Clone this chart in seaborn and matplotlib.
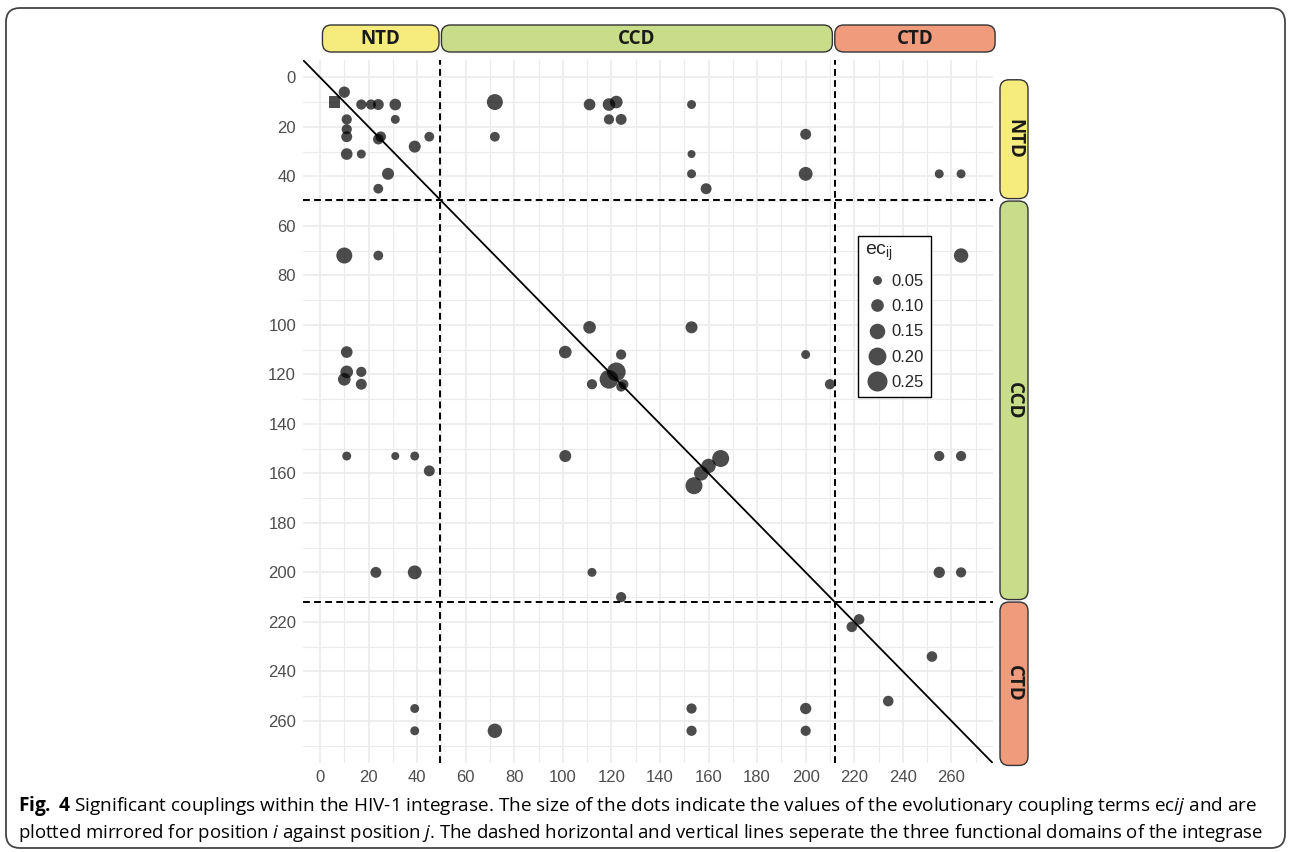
import matplotlib
matplotlib.use("Agg")
import matplotlib.pyplot as plt
from matplotlib.patches import FancyBboxPatch
from matplotlib.lines import Line2D
from matplotlib.transforms import IdentityTransform
import numpy as np
import pandas as pd
import seaborn as sns

# significant couplings (position i < position j) and their ec_ij values
pos_i = [6, 11, 11, 11, 11, 17, 24, 28, 24, 10, 24, 11, 11, 10, 17, 17, 11, 31, 39, 45,
         23, 39, 39, 39, 72, 101, 101, 112, 119, 124, 112, 124, 153, 153, 154, 157, 200, 200,
         219, 234]
pos_j = [10, 17, 21, 24, 31, 31, 25, 39, 45, 72, 72, 111, 119, 122, 119, 124, 153, 153, 153, 159,
         200, 200, 255, 264, 264, 111, 153, 124, 122, 125, 200, 210, 255, 264, 165, 160, 255, 264,
         222, 252]
ec_vals = [0.08, 0.065, 0.065, 0.075, 0.085, 0.05, 0.07, 0.09, 0.06, 0.16, 0.06, 0.085, 0.10, 0.10,
           0.065, 0.075, 0.05, 0.04, 0.05, 0.075, 0.075, 0.12, 0.05, 0.05, 0.13, 0.10, 0.09, 0.065,
           0.22, 0.06, 0.05, 0.065, 0.065, 0.065, 0.18, 0.13, 0.08, 0.065, 0.07, 0.07]
# this one shows up as a square below the diagonal
square_pair = (6, 10)

domains = ["NTD", "CCD", "CTD"]
dom_start = [1, 50, 212]
dom_end = [49, 211, 278]
dom_colors = ["#F6EC7E", "#C8DC89", "#F19B7D"]
dom_borders = [49.5, 212]

legend_ecs = [0.05, 0.10, 0.15, 0.20, 0.25]
major_ticks = list(range(0, 261, 20))
minor_ticks = list(range(10, 271, 20))

caption_1 = (r"$\mathbf{Fig.}$ $\mathbf{4}$ Significant couplings within the HIV-1 integrase. The size of the dots "
             r"indicate the values of the evolutionary coupling terms ec$\mathit{ij}$ and are")
caption_2 = (r"plotted mirrored for position $\mathit{i}$ against position $\mathit{j}$. The dashed horizontal "
             r"and vertical lines seperate the three functional domains of the integrase")

size_scale = 830  # marker area (pt^2) per unit of ec

# mirror the pairs: j vs i above the diagonal, i vs j below it
upper = pd.DataFrame({"x": pos_j, "y": pos_i, "ec": ec_vals, "shape": "circle"})
lower = pd.DataFrame({"x": pos_i, "y": pos_j, "ec": ec_vals, "shape": "circle"})
lower.loc[(lower.x == square_pair[0]) & (lower.y == square_pair[1]), "shape"] = "square"
df = pd.concat([upper, lower], ignore_index=True)

sns.set_theme(style="white")
plt.rcParams["font.family"] = ["Liberation Sans", "DejaVu Sans"]
plt.rcParams["mathtext.fontset"] = "custom"
plt.rcParams["mathtext.rm"] = "Liberation Sans"
plt.rcParams["mathtext.it"] = "Open Sans:italic"
plt.rcParams["mathtext.bf"] = "Open Sans:bold"

fig = plt.figure(figsize=(12.9, 8.52), dpi=100)
ax = fig.add_axes([0.2349, 0.1045, 0.5346, 0.8251])

sns.scatterplot(data=df, x="x", y="y", size="ec", sizes=(0, 0.3 * size_scale), size_norm=(0, 0.3),
                style="shape", markers={"circle": "o", "square": "s"}, color="black", alpha=0.7,
                linewidth=0, legend=False, ax=ax, zorder=3)

ax.set_xlim(-7, 277)
ax.set_ylim(277, -7)
ax.set_xticks(major_ticks)
ax.set_yticks(major_ticks)
ax.set_xticks(minor_ticks, minor=True)
ax.set_yticks(minor_ticks, minor=True)
ax.grid(which="major", color="#EBEBEB", lw=1.2)
ax.grid(which="minor", color="#EBEBEB", lw=0.8)
ax.tick_params(which="both", length=0, labelsize=12, labelcolor="#4D4D4D", pad=5)
ax.set_xlabel("")
ax.set_ylabel("")
for s in ax.spines.values():
    s.set_visible(False)

ax.axline((0, 0), (1, 1), color="black", lw=1.3, zorder=4)
for b in dom_borders:
    ax.axvline(b, color="black", lw=1.4, ls=(0, (3.5, 2.2)), zorder=2)
    ax.axhline(b, color="black", lw=1.4, ls=(0, (3.5, 2.2)), zorder=2)

handles = [Line2D([], [], marker="o", ls="", color="black", alpha=0.7, markeredgewidth=0,
                  markersize=np.sqrt(size_scale * v)) for v in legend_ecs]
leg = ax.legend(handles, [f"{v:.2f}" for v in legend_ecs], title=r"ec$_\mathrm{ij}$",
                loc="upper left", bbox_to_anchor=(0.805, 0.75), borderaxespad=0, frameon=True,
                fancybox=False, edgecolor="black", framealpha=1, fontsize=12, title_fontsize=14,
                labelspacing=0.62, handlelength=1.4, handletextpad=0.2, borderpad=0.4,
                alignment="left")
leg.get_frame().set_linewidth(1.0)

# domain bars along the top and the right side, placed from the data limits
H = 852
for name, a, b, c in zip(domains, dom_start, dom_end, dom_colors):
    x0 = ax.transData.transform((a, 0))[0]
    x1 = ax.transData.transform((b, 0))[0]
    box = FancyBboxPatch((x0, H - 52), x1 - x0, 27, boxstyle="round,pad=0,rounding_size=9",
                         transform=IdentityTransform(), facecolor=c, edgecolor="#333333", lw=1.0)
    fig.add_artist(box)
    fig.text((x0 + x1) / 2, H - 38.5, name, transform=IdentityTransform(), ha="center", va="center",
             fontsize=13.5, fontweight="bold", family="Open Sans", color="#1a1a1a")
    y0 = ax.transData.transform((0, b))[1]
    y1 = ax.transData.transform((0, a))[1]
    box = FancyBboxPatch((1000, y0), 28, y1 - y0, boxstyle="round,pad=0,rounding_size=9",
                         transform=IdentityTransform(), facecolor=c, edgecolor="#333333", lw=1.0)
    fig.add_artist(box)
    fig.text(1014, (y0 + y1) / 2, name, transform=IdentityTransform(), ha="center", va="center",
             rotation=-90, fontsize=13.5, fontweight="bold", family="Open Sans", color="#1a1a1a")

# caption and the rounded frame round the whole figure
frame = FancyBboxPatch((6, 4), 1279, 840, boxstyle="round,pad=0,rounding_size=14",
                       transform=IdentityTransform(), facecolor="none", edgecolor="#444444", lw=1.3)
fig.add_artist(frame)
fig.text(18, 41, caption_1, transform=IdentityTransform(), fontsize=13.7, family="Open Sans", color="black")
fig.text(18, 14, caption_2, transform=IdentityTransform(), fontsize=13.45, family="Open Sans", color="black")

fig.savefig("out.png", dpi=100)
